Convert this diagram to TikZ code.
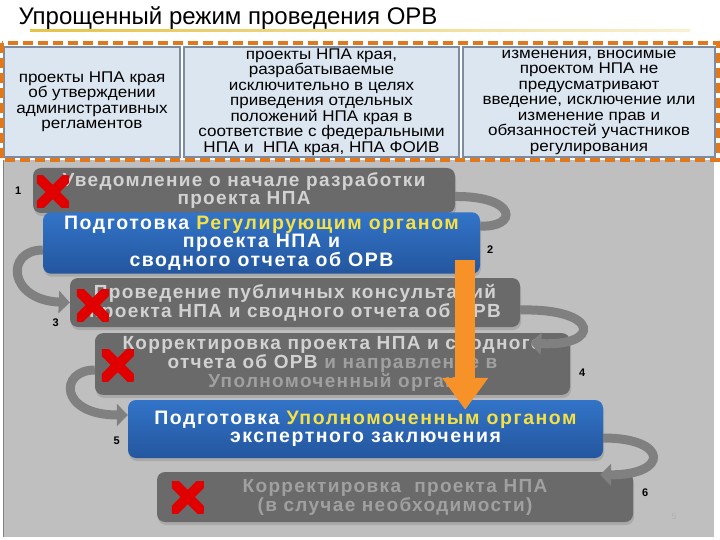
\documentclass[tikz,border=0pt]{standalone}
\usepackage{fontspec}
\setmainfont{Liberation Sans}
\newfontfamily\narrowfont[FakeStretch=1.1]{Liberation Sans}
\newfontfamily\stepfont[LetterSpace=7]{Liberation Sans}
\newfontfamily\bluefont[LetterSpace=8]{Liberation Sans}
\usepackage{xcolor}
\usepackage{tikz}
\usetikzlibrary{arrows.meta,positioning,calc,shadows}

\definecolor{panelgray}{RGB}{191,191,191}
\definecolor{boxgray}{RGB}{106,106,106}
\definecolor{textlight}{RGB}{210,210,210}
\definecolor{textdim}{RGB}{160,160,160}
\definecolor{stepblue}{RGB}{50,116,200}
\definecolor{stepbluedark}{RGB}{36,86,158}
\definecolor{labelyellow}{RGB}{245,225,70}
\definecolor{casefill}{RGB}{220,230,240}
\definecolor{caseline}{RGB}{125,140,160}
\definecolor{frameorange}{RGB}{224,120,30}
\definecolor{arroworange}{RGB}{247,146,40}
\definecolor{loopgray}{RGB}{128,128,128}
\definecolor{crossred}{RGB}{225,0,0}
\definecolor{rulegold}{RGB}{228,196,70}

\begin{document}
\begin{tikzpicture}[x=1pt, y=-1pt,
    casebox/.style={draw=caseline, line width=1.2pt, fill=casefill, align=center, inner sep=0pt,
        font=\narrowfont\fontsize{15.5}{15.5}\selectfont},
    graystep/.style={fill=boxgray, rounded corners=8pt, text=textlight, align=center,
        font=\stepfont\bfseries\fontsize{19}{15.5}\selectfont,
        drop shadow={opacity=0.35, shadow xshift=1pt, shadow yshift=-3pt}},
    bluestep/.style={top color=stepblue, bottom color=stepbluedark, rounded corners=8pt, text=white, align=center,
        font=\bluefont\bfseries\fontsize{19.5}{18}\selectfont,
        drop shadow={opacity=0.35, shadow xshift=1pt, shadow yshift=-3pt}},
    stepnum/.style={font=\bfseries\fontsize{11}{11}\selectfont},
    loopband/.style={draw=loopgray, line width=9pt},
    nomark/.style={minimum size=32pt, inner sep=0pt,
        path picture={\draw[crossred, line width=10pt]
            (path picture bounding box.north west) -- (path picture bounding box.south east)
            (path picture bounding box.north east) -- (path picture bounding box.south west);}}
]
    \useasboundingbox (0,0) rectangle (720,540);

    % Title
    \node[anchor=base west, font=\fontsize{24}{24}\selectfont] (title) at (15,25) {Упрощенный режим проведения ОРВ};
    \fill[left color=rulegold, right color=rulegold!25] (30,29.5) rectangle (690,32);

    % Gray panel
    \fill[panelgray] (3,160) rectangle (714,537);
    \draw[gray, line width=1pt] (3,160) -- (3,537);

    % Cases of the simplified mode
    \node[casebox, minimum width=176pt, minimum height=110pt] (caseA) at (92,102)
        {проекты НПА края\\об утверждении\\административных\\регламентов};
    \node[casebox, minimum width=275pt, minimum height=110pt] (caseB) at (321.5,102)
        {проекты НПА края,\\разрабатываемые\\исключительно в целях\\приведения отдельных\\положений НПА края в\\соответствие с федеральными\\НПА и\ \ НПА края, НПА ФОИВ};
    \node[casebox, minimum width=252pt, minimum height=110pt] (caseC) at (589,102)
        {изменения, вносимые\\проектом НПА не\\предусматривают\\введение, исключение или\\изменение прав и\\обязанностей участников\\регулирования};
    \draw[frameorange, line width=3.5pt, dash pattern=on 10pt off 5pt] (2,43) rectangle (718,160);

    % Steps
    \node[graystep, minimum width=422pt, minimum height=45pt] (notice) at (244,190.5)
        {Уведомление о начале разработки\\проекта НПА};
    \node[bluestep, minimum width=437pt, minimum height=58pt] (draft) at (261.5,243)
        {Подготовка \textcolor{labelyellow}{Регулирующим органом}\\проекта НПА и\\сводного отчета об ОРВ};
    \node[graystep, minimum width=450pt, minimum height=49pt] (consult) at (295,302.5)
        {Проведение публичных консультаций\\проекта НПА и сводного отчета об ОРВ};
    \node[graystep, minimum width=475pt, minimum height=58pt] (revise) at (332.5,364)
        {Корректировка проекта НПА и сводного\\отчета об ОРВ \textcolor{textdim}{и направление в}\\\textcolor{textdim}{Уполномоченный орган}};
    \node[bluestep, minimum width=475pt, minimum height=58pt] (expert) at (365.5,429)
        {Подготовка \textcolor{labelyellow}{Уполномоченным органом}\\экспертного заключения};
    \node[graystep, text=textdim, minimum width=476pt, minimum height=50pt] (final) at (395,497)
        {Корректировка\ \ проекта НПА\\(в случае необходимости)};

    % Loops between steps
    \draw[loopband] ([yshift=-6pt]notice.east) .. controls (518,196) and (518,228) .. ([yshift=17pt]draft.east);
    \draw[loopband, -{Triangle[length=11pt, width=22pt]}] ([yshift=-7pt]draft.west) .. controls (5,250) and (8,300) .. (consult.west);
    \draw[loopband, -{Triangle[length=11pt, width=22pt]}] ([yshift=-7.5pt]consult.east) .. controls (601,308) and (601,347) .. ($(revise.north east)+(-40,10)$);
    \draw[loopband, -{Triangle[length=11pt, width=22pt]}] ([yshift=-6pt]revise.west) .. controls (59,370) and (59,415) .. ([yshift=14pt]expert.west);
    \draw[loopband, -{Triangle[length=11pt, width=22pt]}] ([yshift=-9pt]expert.east) .. controls (669,438) and (669,475) .. ($(final.north east)+(-33,3)$);

    % Shortcut arrow
    \draw[arroworange, line width=20pt, -{Triangle[length=32pt, width=44pt]}] ([xshift=-15pt, yshift=14pt]draft.south east) -- ([xshift=-138pt, yshift=-10pt]expert.north east);

    % Skipped steps
    \node[nomark] (skip1) at ($(notice.west)+(20,1.5)$) {};
    \node[nomark] (skip3) at ($(consult.west)+(23,2.5)$) {};
    \node[nomark] (skip4) at ($(revise.west)+(23,1)$) {};
    \node[nomark] (skip6) at ($(final.west)+(31,0)$) {};

    % Step numbers
    \node[stepnum, left=8pt of notice] (n1) {1};
    \node[stepnum] (n2) at ($(draft.east)+(10,7)$) {2};
    \node[stepnum] (n3) at ($(consult.south west)+(-14,-4)$) {3};
    \node[stepnum] (n4) at ($(revise.east)+(12,9)$) {4};
    \node[stepnum] (n5) at ($(expert.west)+(-11,12)$) {5};
    \node[stepnum] (n6) at ($(final.east)+(12,-4)$) {6};
    \node[text=gray!60, font=\fontsize{9}{9}\selectfont] (page) at (674,516) {5};
\end{tikzpicture}
\end{document}
